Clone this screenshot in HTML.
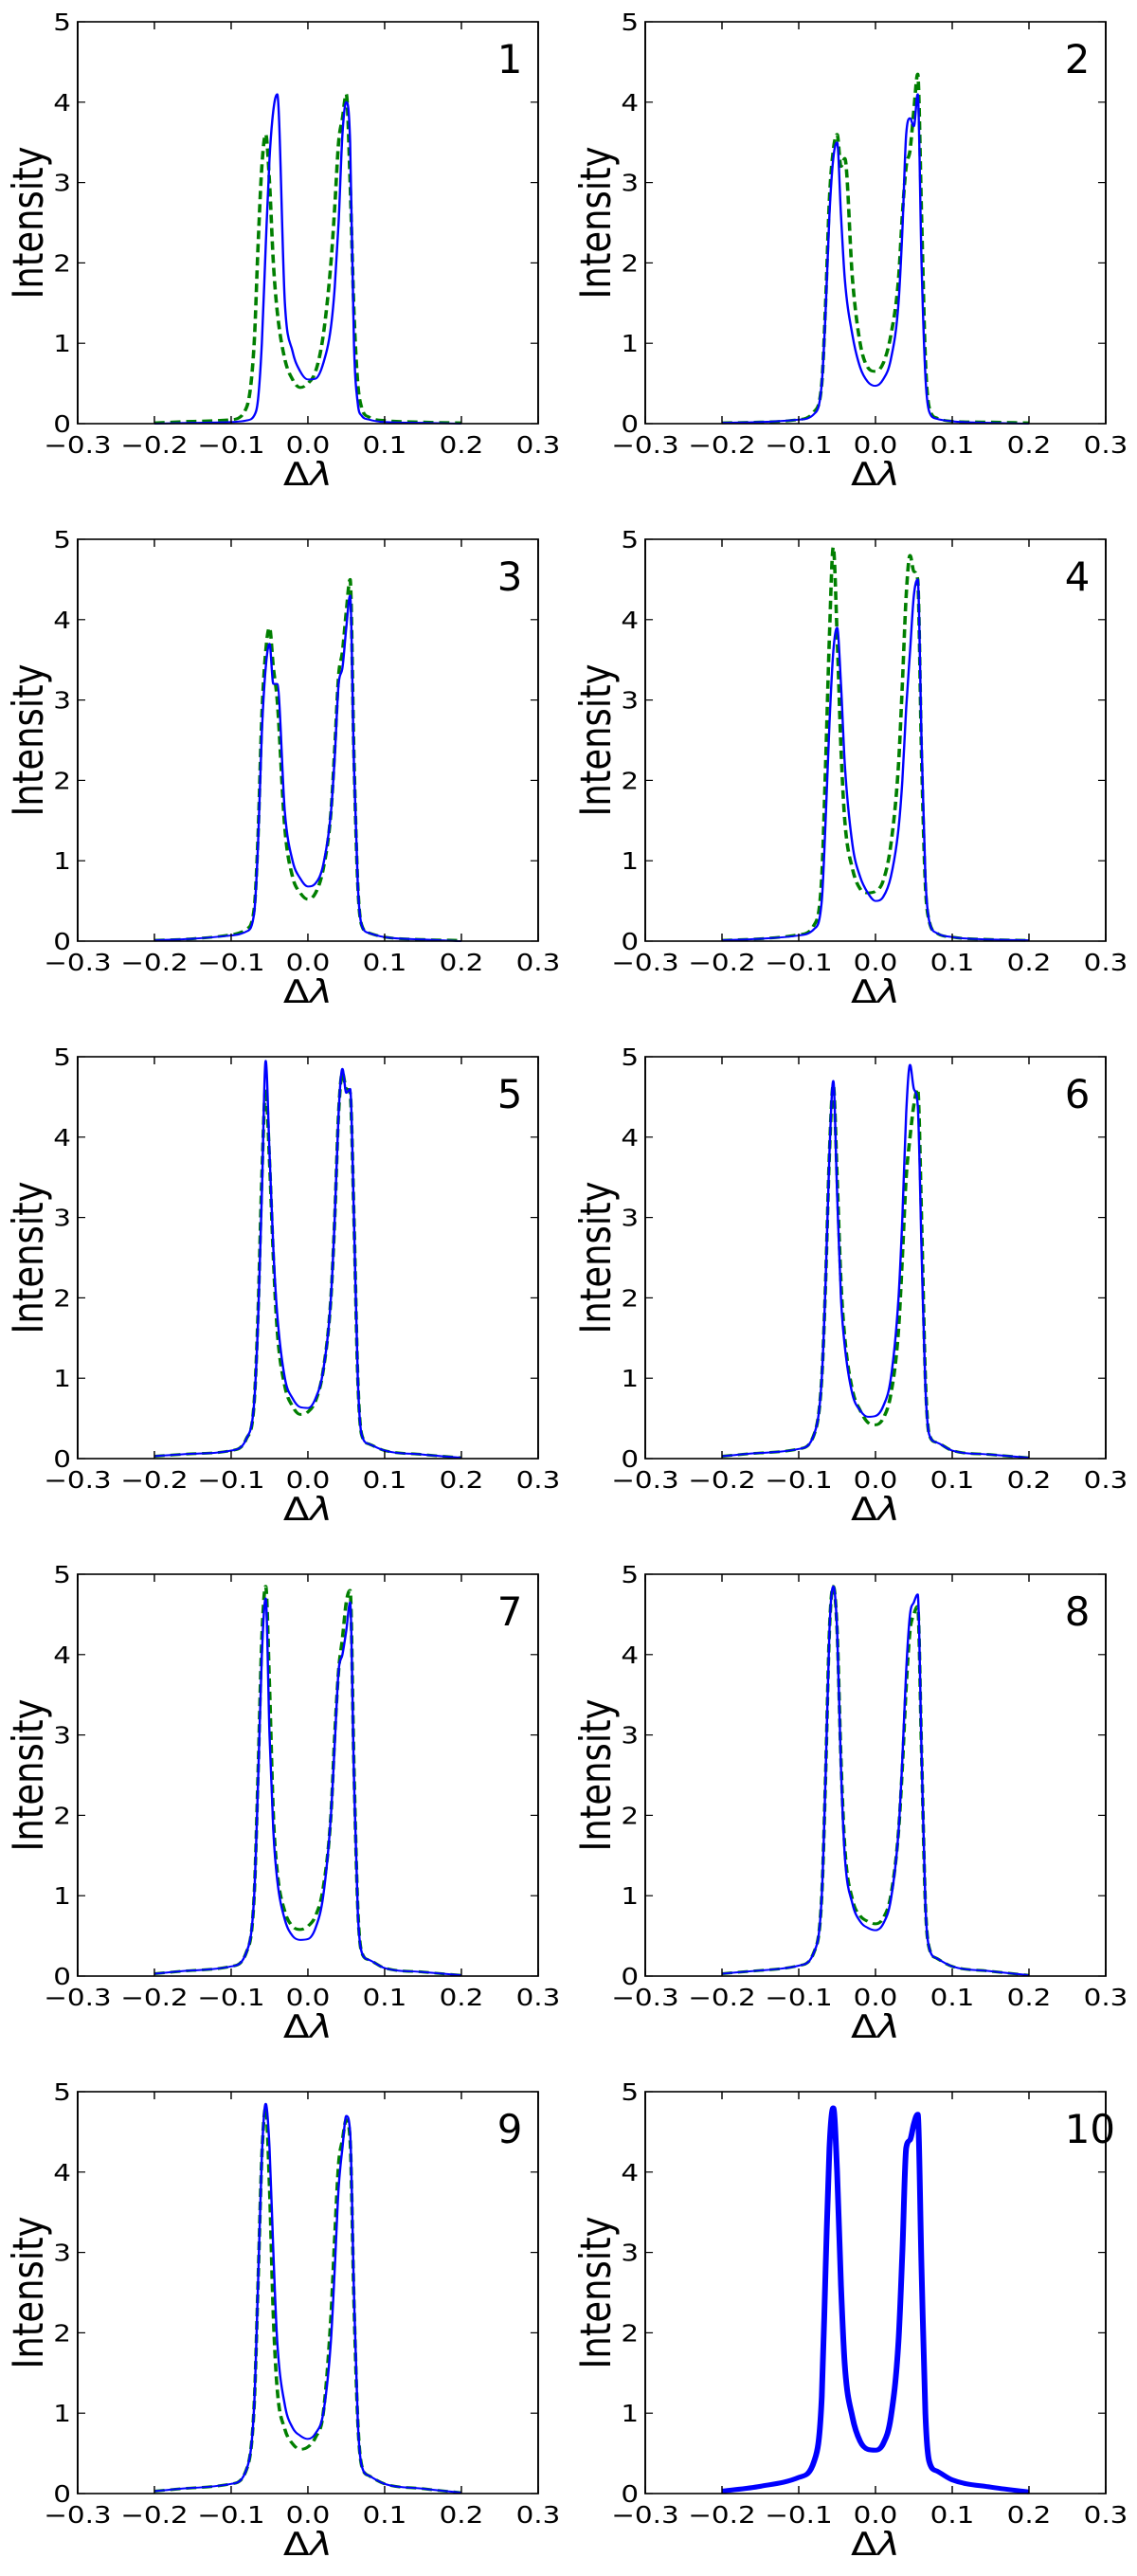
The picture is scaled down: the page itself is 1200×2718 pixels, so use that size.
<!DOCTYPE html>
<html><head><meta charset="utf-8"><style>html,body{margin:0;padding:0;background:#fff}svg{display:block}</style></head>
<body>
<svg id="fig" width="1200" height="2718" viewBox="0 0 1000 2718" preserveAspectRatio="none" xmlns="http://www.w3.org/2000/svg" font-family="'DejaVu Sans','Liberation Sans',sans-serif"></svg>
<script>
const xGrid=[-0.2,-0.15,-0.1,-0.08,-0.07,-0.065,-0.06,-0.055,-0.05,-0.045,-0.04,-0.03,-0.02,-0.01,0,0.01,0.02,0.03,0.035,0.04,0.045,0.05,0.055,0.06,0.065,0.07,0.08,0.1,0.15,0.2];
const xTicks=[-0.3,-0.2,-0.1,0.0,0.1,0.2,0.3];
const xTickLabels=["\u22120.3","\u22120.2","\u22120.1","0.0","0.1","0.2","0.3"];
const yTicks=[0,1,2,3,4,5];
const panelLabels=["1","2","3","4","5","6","7","8","9","10"];
const blue1=[0,0.01,0.02,0.04,0.1,0.3,1.0,2.2,3.3,3.9,4.1,1.5,0.9,0.65,0.55,0.56,0.75,1.2,1.7,2.5,3.6,4.0,3.5,1.0,0.25,0.1,0.05,0.02,0.01,0];
const green1=[0.01,0.03,0.05,0.2,1.0,2.2,3.2,3.6,3.0,2.0,1.4,0.8,0.55,0.45,0.5,0.65,1.1,2.0,2.7,3.5,3.8,4.1,3.0,1.4,0.5,0.2,0.08,0.04,0.02,0.01];
const blue2=[0.01,0.02,0.05,0.12,0.5,1.4,2.6,3.3,3.5,2.6,1.8,1.1,0.7,0.52,0.47,0.55,0.8,1.5,2.4,3.6,3.8,3.7,4.1,2.0,0.6,0.15,0.06,0.03,0.01,0];
const green2=[0.01,0.02,0.05,0.15,0.5,1.5,2.8,3.4,3.6,3.2,3.3,1.8,1.0,0.7,0.65,0.75,1.1,1.8,2.6,3.2,3.4,3.9,4.35,2.6,0.8,0.2,0.07,0.03,0.02,0.01];
const blue3=[0.01,0.03,0.07,0.12,0.35,1.2,2.6,3.4,3.7,3.2,3.2,1.6,1.0,0.78,0.68,0.72,0.95,1.6,2.3,3.2,3.4,3.9,4.3,2.2,0.7,0.2,0.1,0.05,0.02,0];
const green3=[0.01,0.03,0.08,0.15,0.4,1.3,2.8,3.6,3.9,3.4,3.0,1.4,0.8,0.6,0.52,0.6,0.9,1.6,2.4,3.3,3.6,4.1,4.5,2.3,0.7,0.2,0.1,0.05,0.02,0.01];
const blue4=[0.01,0.03,0.07,0.15,0.5,1.5,2.7,3.6,3.9,3.2,2.2,1.2,0.8,0.6,0.5,0.55,0.8,1.4,2.0,2.9,3.6,4.3,4.5,2.5,0.8,0.25,0.1,0.05,0.02,0.01];
const green4=[0.01,0.03,0.08,0.2,0.8,2.2,3.8,4.9,3.8,2.4,1.5,0.9,0.65,0.6,0.62,0.75,1.2,2.2,3.2,4.3,4.8,4.6,4.5,2.3,0.7,0.25,0.1,0.05,0.02,0.01];
const blue5=[0.03,0.06,0.1,0.25,0.7,1.7,3.3,4.95,3.8,2.6,1.8,1.0,0.75,0.64,0.63,0.75,1.1,2.0,3.0,4.3,4.85,4.55,4.6,3.0,1.0,0.3,0.18,0.1,0.05,0.01];
const green5=[0.03,0.06,0.1,0.25,0.7,1.8,3.5,4.6,3.7,2.5,1.6,0.9,0.65,0.55,0.58,0.72,1.1,2.0,3.0,4.3,4.8,4.6,4.55,3.0,1.0,0.3,0.18,0.1,0.05,0.01];
const blue6=[0.03,0.07,0.12,0.3,1.0,2.2,3.8,4.7,3.3,2.0,1.4,0.8,0.6,0.52,0.53,0.65,1.0,2.0,3.0,4.3,4.9,4.6,4.4,2.6,0.9,0.3,0.2,0.1,0.05,0.01];
const green6=[0.03,0.07,0.12,0.3,1.0,2.2,3.8,4.65,3.5,2.2,1.5,0.85,0.6,0.45,0.42,0.5,0.8,1.6,2.5,3.5,4.0,4.4,4.6,3.0,1.0,0.3,0.2,0.1,0.05,0.01];
const blue7=[0.03,0.07,0.12,0.3,1.0,2.4,4.0,4.7,3.0,1.8,1.2,0.7,0.5,0.45,0.46,0.6,1.0,2.0,2.9,3.8,4.0,4.3,4.65,2.5,0.8,0.3,0.2,0.1,0.05,0.01];
const green7=[0.03,0.07,0.12,0.3,1.0,2.5,4.2,4.85,3.6,2.0,1.3,0.8,0.62,0.58,0.62,0.75,1.1,2.0,3.0,3.8,4.2,4.65,4.8,2.6,0.85,0.3,0.2,0.1,0.05,0.01];
const blue8=[0.03,0.07,0.13,0.3,1.0,2.5,4.3,4.85,4.3,2.6,1.5,0.9,0.68,0.6,0.57,0.65,0.95,1.8,2.7,3.8,4.5,4.65,4.75,2.8,0.9,0.35,0.22,0.12,0.06,0.01];
const green8=[0.03,0.07,0.13,0.3,1.0,2.5,4.3,4.85,4.3,2.7,1.6,0.95,0.75,0.68,0.65,0.72,1.0,1.8,2.6,3.6,4.3,4.5,4.6,2.8,0.9,0.35,0.22,0.12,0.06,0.01];
const blue9=[0.03,0.07,0.12,0.3,1.1,2.6,4.2,4.85,4.3,3.0,1.9,1.1,0.82,0.72,0.68,0.75,1.0,1.9,2.8,3.8,4.3,4.7,4.5,2.5,0.9,0.35,0.22,0.12,0.06,0.01];
const green9=[0.03,0.07,0.12,0.3,1.1,2.6,4.2,4.8,3.8,2.2,1.3,0.8,0.62,0.55,0.58,0.7,1.0,2.2,3.2,4.1,4.4,4.65,4.4,2.4,0.9,0.35,0.22,0.12,0.06,0.01];
const blue10=[0.03,0.09,0.2,0.4,1.2,2.8,4.3,4.8,4.0,2.6,1.6,0.95,0.65,0.55,0.54,0.62,0.95,1.9,3.0,4.3,4.4,4.6,4.72,2.8,1.0,0.4,0.28,0.17,0.08,0.02];
const blueSeries=[blue1,blue2,blue3,blue4,blue5,blue6,blue7,blue8,blue9,blue10];
const greenSeries=[green1,green2,green3,green4,green5,green6,green7,green8,green9,null];

const NS="http://www.w3.org/2000/svg";
const svg=document.getElementById('fig');
function mk(tag,attrs,parent){const e=document.createElementNS(NS,tag);for(const k in attrs)e.setAttribute(k,attrs[k]);(parent||svg).appendChild(e);return e;}
function smoothPath(X,Y){
  const n=X.length,d=[],m=[];
  for(let i=0;i<n-1;i++)d.push((Y[i+1]-Y[i])/(X[i+1]-X[i]));
  m[0]=d[0];m[n-1]=d[n-2];
  for(let i=1;i<n-1;i++){m[i]=(d[i-1]*d[i]<=0)?0:(d[i-1]+d[i])/2;}
  for(let i=0;i<n-1;i++){
    if(d[i]===0){m[i]=0;m[i+1]=0;continue;}
    const a=m[i]/d[i],b=m[i+1]/d[i],s=a*a+b*b;
    if(s>9){const t=3/Math.sqrt(s);m[i]=t*a*d[i];m[i+1]=t*b*d[i];}
  }
  let p='M'+X[0].toFixed(2)+','+Y[0].toFixed(2);
  for(let i=0;i<n-1;i++){
    const h=(X[i+1]-X[i])/3;
    p+=' C'+(X[i]+h).toFixed(2)+','+(Y[i]+m[i]*h).toFixed(2)+' '+(X[i+1]-h).toFixed(2)+','+(Y[i+1]-m[i+1]*h).toFixed(2)+' '+X[i+1].toFixed(2)+','+Y[i+1].toFixed(2);
  }
  return p;
}
const colLeft=[68.3,567.5],W=405,H=424,top0=23,pitch=546;
for(let p=0;p<10;p++){
  const L=colLeft[p%2],T=top0+pitch*Math.floor(p/2),B=T+H;
  const sx=v=>L+(v+0.3)/0.6*W, sy=v=>B-v/5*H;
  const g=mk('g',{});
  
  
  const path=arr=>smoothPath(xGrid.map(sx),arr.map(sy));
  if(greenSeries[p]){
    const gl=mk('path',{d:path(greenSeries[p]),fill:'none',stroke:'#007f00','stroke-width':3,'stroke-dasharray':'9 5','stroke-linejoin':'round'},g);
    
    
  }
  const bl=mk('path',{d:path(blueSeries[p]),fill:'none',stroke:'#0000ff','stroke-width':p===9?5:2,'stroke-linejoin':'round'},g);
  
  
  const fr=mk('rect',{x:L,y:T,width:W,height:H,fill:'none',stroke:'#000','stroke-width':1.6},g);
  
  
  xTicks.forEach((t,i)=>{
    const x=sx(t);
    mk('line',{x1:x,x2:x,y1:B,y2:B-8,stroke:'#000','stroke-width':1.2},g);
    mk('line',{x1:x,x2:x,y1:T,y2:T+8,stroke:'#000','stroke-width':1.2},g);
    const tl=mk('text',{x:x,y:B+31,'font-size':24.5,'text-anchor':'middle',fill:'#000'},g);
    tl.textContent=xTickLabels[i];
    
    
  });
  yTicks.forEach(t=>{
    const y=sy(t);
    mk('line',{x1:L,x2:L+6.7,y1:y,y2:y,stroke:'#000','stroke-width':1.2},g);
    mk('line',{x1:L+W,x2:L+W-6.7,y1:y,y2:y,stroke:'#000','stroke-width':1.2},g);
    const tl=mk('text',{x:L-5.8,y:y+9,'font-size':24.5,'text-anchor':'end',fill:'#000'},g);
    tl.textContent=String(t);
    
    
  });
  const yl=mk('text',{x:0,y:0,'font-size':37,'text-anchor':'middle',fill:'#000',transform:`translate(${L-30.8},${T+H/2}) rotate(-90)`},g);
  yl.textContent='Intensity';
  
  
  const xl=mk('text',{x:L+W/2,y:B+65,'font-size':34,'text-anchor':'middle',fill:'#000'},g);
  xl.innerHTML='Δ<tspan font-style="italic">λ</tspan>';
  
  
  const pl=mk('text',{x:0,y:0,'font-size':42,fill:'#000',transform:`translate(${L+369},${T+54}) scale(0.83,1)`},g);
  pl.textContent=panelLabels[p];
  
  
}
</script>
</body></html>
